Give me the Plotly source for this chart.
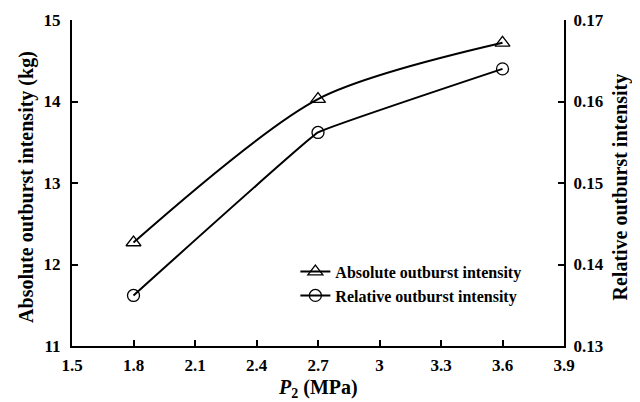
import plotly.graph_objects as go

pressure = [1.8, 2.7, 3.6]
absolute_intensity = [12.27, 14.03, 14.72]
relative_intensity = [0.1362, 0.1562, 0.1640]

x_ticks = [1.5, 1.8, 2.1, 2.4, 2.7, 3.0, 3.3, 3.6, 3.9]
y_ticks = [11, 12, 13, 14, 15]
y2_ticks = [0.13, 0.14, 0.15, 0.16, 0.17]

FONT = "Liberation Serif, Times New Roman, serif"

fig = go.Figure()
fig.add_trace(go.Scatter(
    x=pressure, y=absolute_intensity, name="Absolute outburst intensity",
    mode="lines+markers", line=dict(color="black", width=2, shape="spline", smoothing=0.8),
    marker=dict(symbol="triangle-up-open", size=13, color="black", line=dict(width=1.3)),
))
fig.add_trace(go.Scatter(
    x=pressure, y=relative_intensity, name="Relative outburst intensity", yaxis="y2",
    mode="lines+markers", line=dict(color="black", width=2, shape="spline", smoothing=0.15),
    marker=dict(symbol="circle-open", size=12, color="black", line=dict(width=1.3)),
))

def axis_common(standoff):
    return dict(
        showgrid=False, zeroline=False, showline=True, linecolor="black", linewidth=2,
        ticks="inside", ticklen=6, tickwidth=2, tickcolor="black",
        ticklabelstandoff=standoff, automargin=False,
        tickfont=dict(family=FONT, size=17, color="black", weight="bold"),
    )

TITLE_FONT = dict(family=FONT, size=20, color="black", weight="bold")

# page has an 8px body margin, so the figure is sized to fill the rest of the window
fig.update_layout(
    width=632, height=394,
    margin=dict(l=64, r=76, t=12, b=56, autoexpand=False),
    paper_bgcolor="white", plot_bgcolor="white",
    font=dict(family=FONT, color="black"),
    xaxis=dict(range=[1.5, 3.9], tickvals=x_ticks,
               ticktext=["<b>%g</b>" % v for v in x_ticks], **axis_common(3)),
    yaxis=dict(range=[11, 15], tickvals=y_ticks,
               ticktext=["<b>%g</b>" % v for v in y_ticks], **axis_common(6)),
    yaxis2=dict(range=[0.13, 0.17], tickvals=y2_ticks,
                ticktext=["<b>%.2f</b>" % v for v in y2_ticks],
                overlaying="y", side="right", **axis_common(4)),
    legend=dict(x=0.454, y=0.28, xanchor="left", yanchor="top",
                bgcolor="rgba(0,0,0,0)", borderwidth=0, tracegroupgap=0,
                font=dict(family=FONT, size=16, color="black", weight="bold"),
                itemwidth=30),
    showlegend=True,
    annotations=[
        dict(text="<b>Absolute outburst intensity (kg)</b>", xref="paper", yref="paper",
             x=-0.0915, y=0.488, xanchor="center", yanchor="middle", textangle=-90,
             showarrow=False, font=TITLE_FONT),
        dict(text="<b>Relative outburst intensity</b>", xref="paper", yref="paper",
             x=1.115, y=0.488, xanchor="center", yanchor="middle", textangle=-90,
             showarrow=False, font=TITLE_FONT),
        dict(text="<b><i>P</i><sub>2</sub> (MPa)</b>", xref="paper", yref="paper",
             x=0.5, y=-0.129, xanchor="center", yanchor="middle",
             showarrow=False, font=TITLE_FONT),
    ],
)

fig.write_html("out.html")
